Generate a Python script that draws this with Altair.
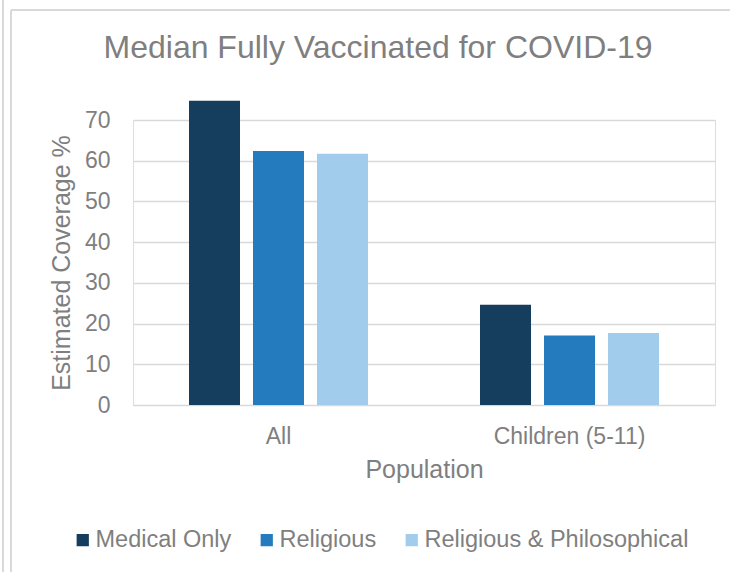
import altair as alt
import pandas as pd

populations = ["All", "Children (5-11)"]
exemption_types = ["Medical Only", "Religious", "Religious & Philosophical"]
medical_only = [74.7, 24.6]
religious = [62.4, 17.1]
religious_phil = [61.7, 17.7]
colors = ["#153D5D", "#247BBD", "#A2CCEC"]

rows = []
for i, p in enumerate(populations):
    for t, vals in zip(exemption_types, [medical_only, religious, religious_phil]):
        rows.append({"Population": p, "Type": t, "Value": vals[i]})
df = pd.DataFrame(rows)

FONT = "Liberation Sans"
GRAY = "#7F7F7F"

bars = alt.Chart(df).mark_bar().encode(
    x=alt.X("Population:N", sort=populations,
            scale=alt.Scale(paddingInner=0, paddingOuter=0),
            axis=alt.Axis(title="Population", labelAngle=0, ticks=False, domain=False,
                          labelPadding=20, labelFontSize=23, labelColor=GRAY, labelFont=FONT,
                          titleFontSize=25, titleColor=GRAY, titleFont=FONT, titleFontWeight="normal",
                          titlePadding=9)),
    xOffset=alt.XOffset("Type:N", sort=exemption_types,
                        scale=alt.Scale(paddingInner=0.203, paddingOuter=0.875)),
    y=alt.Y("Value:Q", scale=alt.Scale(domain=[0, 70], nice=False),
            axis=alt.Axis(title="Estimated Coverage %", values=[0, 10, 20, 30, 40, 50, 60, 70],
                          ticks=False, domain=False, labelPadding=23, labelFontSize=23,
                          labelColor=GRAY, labelFont=FONT, gridColor="#D9D9D9", gridWidth=1.5,
                          titleFontSize=25, titleColor=GRAY, titleFont=FONT, titleFontWeight="normal",
                          titlePadding=10)),
    color=alt.Color("Type:N", sort=exemption_types,
                    scale=alt.Scale(domain=exemption_types, range=colors),
                    legend=alt.Legend(title=None, orient="none", direction="horizontal",
                                      legendX=-62, legendY=408, symbolType="square",
                                      symbolSize=150, symbolStrokeWidth=0, labelFontSize=23.5,
                                      labelColor=GRAY, labelFont=FONT, labelOffset=1,
                                      labelLimit=0, columnPadding=23)),
)

frame_left = alt.Chart(df).mark_rule(color="#D9D9D9", strokeWidth=1.5).encode(
    x=alt.value(-122), y=alt.value(-110), y2=alt.value(452))
frame_far_left = alt.Chart(df).mark_rule(color="#D9D9D9", strokeWidth=1.5).encode(
    x=alt.value(-130), y=alt.value(-130), y2=alt.value(452))
frame_top = alt.Chart(df).mark_rule(color="#D9D9D9", strokeWidth=1.5).encode(
    x=alt.value(-122), x2=alt.value(600), y=alt.value(-110))

chart = alt.layer(frame_left, frame_far_left, frame_top, bars).properties(
    width=582, height=285,
    title=alt.TitleParams("Median Fully Vaccinated for COVID-19", fontSize=32, color=GRAY,
                          font=FONT, fontWeight="normal", anchor="middle", dx=-46, offset=-76),
    autosize=alt.AutoSizeParams(type="none"),
    padding={"left": 133, "top": 120, "right": 15, "bottom": 167},
).configure_view(stroke=None).configure(background="white")

chart.save("out.html", embed_options={"renderer": "svg", "actions": False})
